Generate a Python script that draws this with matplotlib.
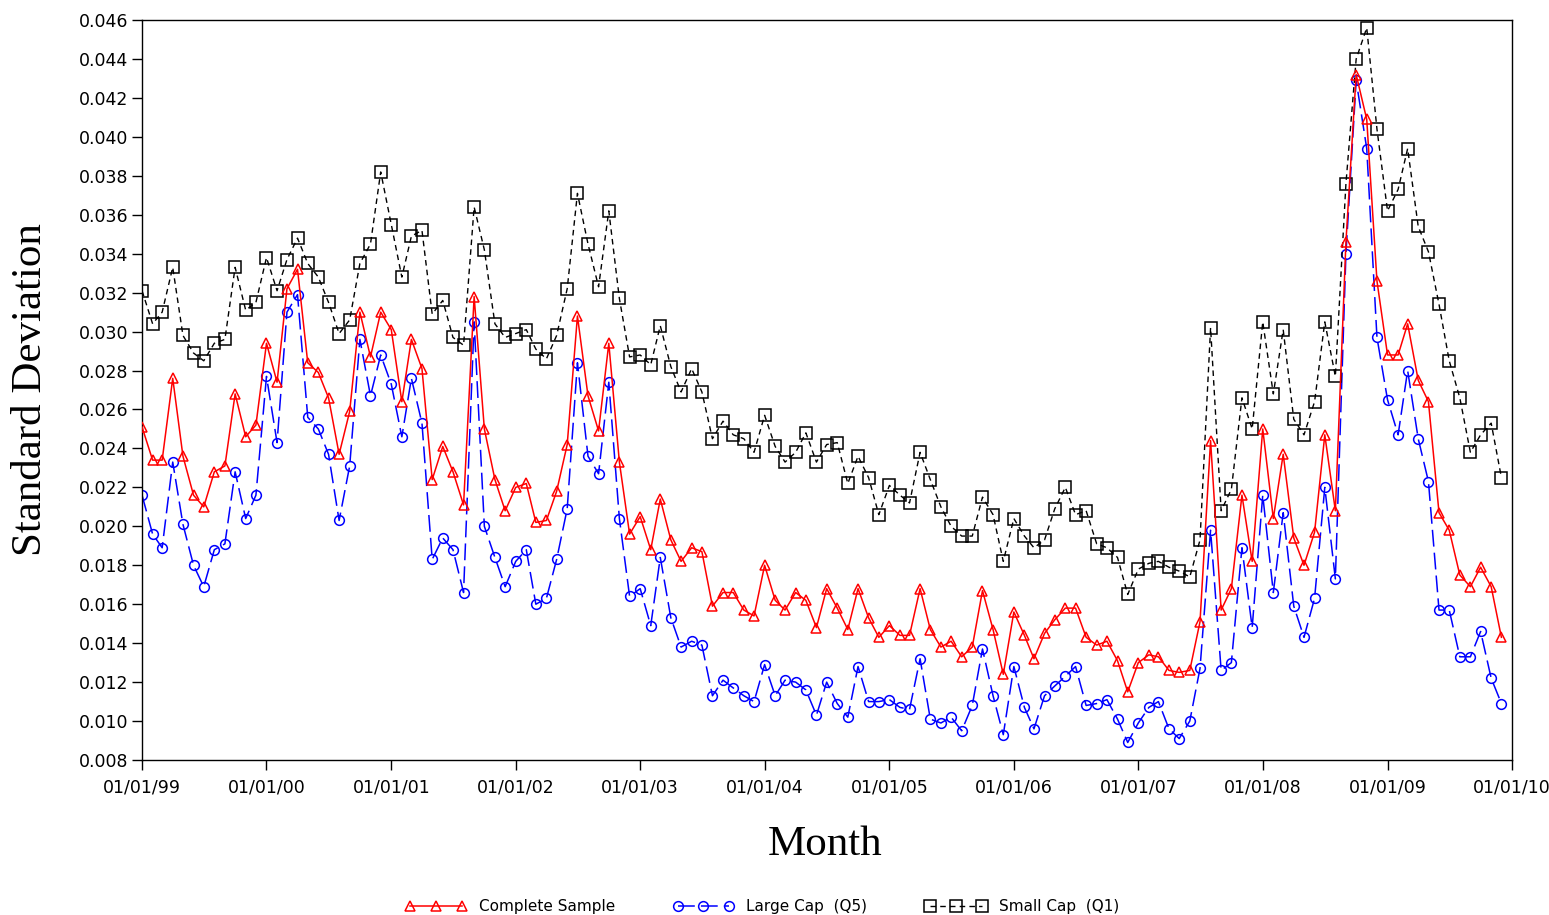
import numpy as np
import pandas as pd
import matplotlib
matplotlib.use("Agg")
import matplotlib.pyplot as plt
import matplotlib.dates as mdates

# monthly observations, Jan 1999 .. Dec 2009
months = pd.date_range("1999-01-01", "2009-12-01", freq="MS")

complete_sample = [
    0.0251, 0.0234, 0.0234, 0.0276, 0.0236, 0.0216, 0.0210, 0.0228, 0.0231, 0.0268, 0.0246, 0.0252,
    0.0294, 0.0274, 0.0322, 0.0332, 0.0284, 0.0279, 0.0266, 0.0237, 0.0259, 0.0310, 0.0287, 0.0310,
    0.0301, 0.0264, 0.0296, 0.0281, 0.0224, 0.0241, 0.0228, 0.0211, 0.0318, 0.0250, 0.0224, 0.0208,
    0.0220, 0.0222, 0.0202, 0.0203, 0.0218, 0.0242, 0.0308, 0.0267, 0.0249, 0.0294, 0.0233, 0.0196,
    0.0205, 0.0188, 0.0214, 0.0193, 0.0182, 0.0189, 0.0187, 0.0159, 0.0166, 0.0166, 0.0157, 0.0154,
    0.0180, 0.0162, 0.0157, 0.0166, 0.0162, 0.0148, 0.0168, 0.0158, 0.0147, 0.0168, 0.0153, 0.0143,
    0.0149, 0.0144, 0.0144, 0.0168, 0.0147, 0.0138, 0.0141, 0.0133, 0.0138, 0.0167, 0.0147, 0.0124,
    0.0156, 0.0144, 0.0132, 0.0145, 0.0152, 0.0158, 0.0158, 0.0143, 0.0139, 0.0141, 0.0131, 0.0115,
    0.0130, 0.0134, 0.0133, 0.0126, 0.0125, 0.0126, 0.0151, 0.0244, 0.0157, 0.0168, 0.0216, 0.0182,
    0.0250, 0.0204, 0.0237, 0.0194, 0.0180, 0.0197, 0.0247, 0.0208, 0.0346, 0.0432, 0.0409, 0.0326,
    0.0288, 0.0288, 0.0304, 0.0275, 0.0264, 0.0207, 0.0198, 0.0175, 0.0169, 0.0179, 0.0169, 0.0143,
]

large_cap = [
    0.0216, 0.0196, 0.0189, 0.0233, 0.0201, 0.0180, 0.0169, 0.0188, 0.0191, 0.0228, 0.0204, 0.0216,
    0.0277, 0.0243, 0.0310, 0.0319, 0.0256, 0.0250, 0.0237, 0.0203, 0.0231, 0.0296, 0.0267, 0.0288,
    0.0273, 0.0246, 0.0276, 0.0253, 0.0183, 0.0194, 0.0188, 0.0166, 0.0305, 0.0200, 0.0184, 0.0169,
    0.0182, 0.0188, 0.0160, 0.0163, 0.0183, 0.0209, 0.0284, 0.0236, 0.0227, 0.0274, 0.0204, 0.0164,
    0.0168, 0.0149, 0.0184, 0.0153, 0.0138, 0.0141, 0.0139, 0.0113, 0.0121, 0.0117, 0.0113, 0.0110,
    0.0129, 0.0113, 0.0121, 0.0120, 0.0116, 0.0103, 0.0120, 0.0109, 0.0102, 0.0128, 0.0110, 0.0110,
    0.0111, 0.0107, 0.0106, 0.0132, 0.0101, 0.0099, 0.0102, 0.0095, 0.0108, 0.0137, 0.0113, 0.0093,
    0.0128, 0.0107, 0.0096, 0.0113, 0.0118, 0.0123, 0.0128, 0.0108, 0.0109, 0.0111, 0.0101, 0.0089,
    0.0099, 0.0107, 0.0110, 0.0096, 0.0091, 0.0100, 0.0127, 0.0198, 0.0126, 0.0130, 0.0189, 0.0148,
    0.0216, 0.0166, 0.0207, 0.0159, 0.0143, 0.0163, 0.0220, 0.0173, 0.0340, 0.0429, 0.0394, 0.0297,
    0.0265, 0.0247, 0.0280, 0.0245, 0.0223, 0.0157, 0.0157, 0.0133, 0.0133, 0.0146, 0.0122, 0.0109,
]

small_cap = [
    0.0321, 0.0304, 0.0310, 0.0333, 0.0298, 0.0289, 0.0285, 0.0294, 0.0296, 0.0333, 0.0311, 0.0315,
    0.0338, 0.0321, 0.0337, 0.0348, 0.0335, 0.0328, 0.0315, 0.0299, 0.0306, 0.0335, 0.0345, 0.0382,
    0.0355, 0.0328, 0.0349, 0.0352, 0.0309, 0.0316, 0.0297, 0.0293, 0.0364, 0.0342, 0.0304, 0.0297,
    0.0299, 0.0301, 0.0291, 0.0286, 0.0298, 0.0322, 0.0371, 0.0345, 0.0323, 0.0362, 0.0317, 0.0287,
    0.0288, 0.0283, 0.0303, 0.0282, 0.0269, 0.0281, 0.0269, 0.0245, 0.0254, 0.0247, 0.0245, 0.0238,
    0.0257, 0.0241, 0.0233, 0.0238, 0.0248, 0.0233, 0.0242, 0.0243, 0.0222, 0.0236, 0.0225, 0.0206,
    0.0221, 0.0216, 0.0212, 0.0238, 0.0224, 0.0210, 0.0200, 0.0195, 0.0195, 0.0215, 0.0206, 0.0182,
    0.0204, 0.0195, 0.0189, 0.0193, 0.0209, 0.0220, 0.0206, 0.0208, 0.0191, 0.0189, 0.0184, 0.0165,
    0.0178, 0.0181, 0.0182, 0.0179, 0.0177, 0.0174, 0.0193, 0.0302, 0.0208, 0.0219, 0.0266, 0.0250,
    0.0305, 0.0268, 0.0301, 0.0255, 0.0247, 0.0264, 0.0305, 0.0277, 0.0376, 0.0440, 0.0456, 0.0404,
    0.0362, 0.0373, 0.0394, 0.0354, 0.0341, 0.0314, 0.0285, 0.0266, 0.0238, 0.0247, 0.0253, 0.0225,
]

series_names = ["Complete Sample", "Large Cap  (Q5)", "Small Cap  (Q1)"]
y_ticks = np.arange(0.008, 0.0461, 0.002)

fig = plt.figure(figsize=(15.49, 9.15), dpi=100)
ax = fig.add_axes([0.0917, 0.1694, 0.8844, 0.8087])

ax.plot(months, complete_sample, color="#ff0000", lw=1.1, marker="^", ms=7.5,
        mfc="none", mec="#ff0000", mew=1.1, label=series_names[0], zorder=3)
ax.plot(months, large_cap, color="#0000ff", lw=1.1, dashes=(11, 4), marker="o", ms=7,
        mfc="none", mec="#0000ff", mew=1.1, label=series_names[1], zorder=2)
ax.plot(months, small_cap, color="black", lw=1.0, dashes=(4, 3), marker="s", ms=8,
        mfc="none", mec="black", mew=1.1, label=series_names[2], zorder=2)

ax.set_xlim(pd.Timestamp("1999-01-01"), pd.Timestamp("2010-01-01"))
ax.set_ylim(0.008, 0.046)
ax.set_yticks(y_ticks)
ax.yaxis.set_major_formatter(plt.FormatStrFormatter("%.3f"))
ax.xaxis.set_major_locator(mdates.YearLocator())
ax.xaxis.set_major_formatter(mdates.DateFormatter("%m/%d/%y"))

ax.tick_params(axis="both", direction="out", length=7, width=1.0, labelsize=12.5)
ax.tick_params(axis="x", pad=6)
ax.tick_params(axis="y", pad=3)
for s in ax.spines.values():
    s.set_linewidth(1.0)

ax.set_ylabel("Standard Deviation", family="Liberation Serif", fontsize=31)
ax.yaxis.set_label_coords(-0.067, 0.5)
ax.set_xlabel("Month", family="Liberation Serif", fontsize=31)
ax.xaxis.set_label_coords(0.4985, -0.088)

fig.legend(loc="lower center", bbox_to_anchor=(0.492, -0.014), ncol=3, frameon=False,
           numpoints=3, handlelength=4.0, columnspacing=3.8, handletextpad=0.8,
           fontsize=11)

fig.savefig("out.png", dpi=100)
